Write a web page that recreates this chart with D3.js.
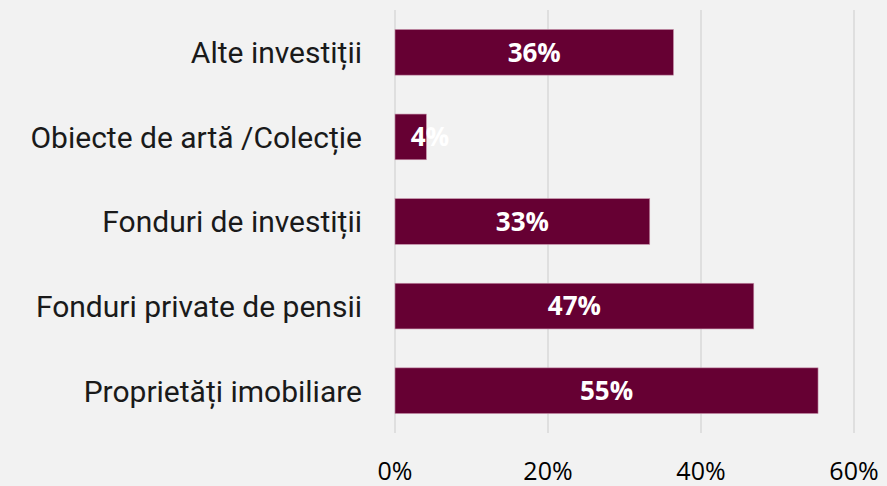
<!DOCTYPE html>
<html>
<head>
<meta charset="utf-8">
<script src="https://cdn.jsdelivr.net/npm/d3@7"></script>
<style>
  body { margin: 0; background: #f2f2f2; }
</style>
</head>
<body>
<div id="canvas"></div>
<script>
"use strict"

/* data */
let categories = ["Alte investiții", "Obiecte de artă /Colecție", "Fonduri de investiții",
  "Fonduri private de pensii", "Proprietăți imobiliare"];
let values = [36.4, 4.1, 33.3, 46.9, 55.3];
let tickValues = [0, 20, 40, 60];

let drawing = d3.select("#canvas")
  .append("svg")
  .attr("width", 887)
  .attr("height", 486);

drawing.append("rect")
  .attr("width", 887)
  .attr("height", 486)
  .attr("fill", "#f2f2f2");

/* scales */
let x = d3.scaleLinear().domain([0, 60]).range([395, 854]);
let y = d3.scaleBand().domain(categories).range([10, 433])
  .paddingInner(0.46).paddingOuter(0.23);

/* gridlines */
drawing.append("g")
  .selectAll("line")
  .data(tickValues)
  .join("line")
  .attr("x1", d => x(d))
  .attr("x2", d => x(d))
  .attr("y1", 10)
  .attr("y2", 433)
  .attr("stroke", "#d9d9d9")
  .attr("stroke-width", 1.5);

/* tick labels */
drawing.append("g")
  .selectAll("text")
  .data(tickValues)
  .join("text")
  .attr("x", d => x(d))
  .attr("y", 480)
  .attr("text-anchor", "middle")
  .attr("font-family", "Open Sans")
  .attr("font-size", 25)
  .attr("fill", "#000")
  .text(d => d + "%");

/* bars */
drawing.append("g")
  .selectAll("rect")
  .data(values)
  .join("rect")
  .attr("x", x(0))
  .attr("y", (d, i) => y(categories[i]))
  .attr("width", d => x(d) - x(0))
  .attr("height", y.bandwidth())
  .attr("fill", "#660033")
  .attr("stroke", "#c690aa")
  .attr("stroke-width", 0.6);

/* category labels */
drawing.append("g")
  .selectAll("text")
  .data(categories)
  .join("text")
  .attr("x", 362)
  .attr("y", d => y(d) + y.bandwidth() / 2)
  .attr("dy", "0.36em")
  .attr("text-anchor", "end")
  .attr("font-family", "Roboto")
  .attr("font-size", 30)
  .attr("fill", "#1a1a1a")
  .text(d => d);

/* value labels */
drawing.append("g")
  .selectAll("text")
  .data(values)
  .join("text")
  .attr("x", d => Math.max((x(0) + x(d)) / 2, x(0) + 35))
  .attr("y", (d, i) => y(categories[i]) + y.bandwidth() / 2)
  .attr("dy", "0.36em")
  .attr("text-anchor", "middle")
  .attr("font-family", "Open Sans")
  .attr("font-weight", "bold")
  .attr("font-size", 26)
  .attr("fill", "#fff")
  .text(d => Math.round(d) + "%");
</script>
</body>
</html>
